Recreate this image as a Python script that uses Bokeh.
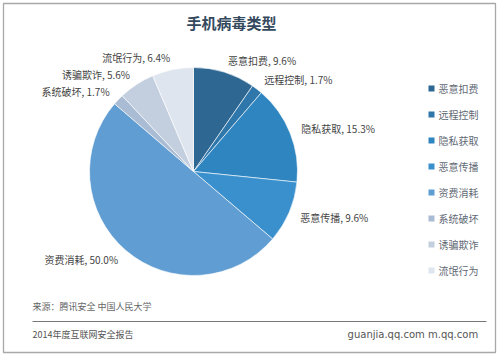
import math
from bokeh.plotting import figure
from bokeh.models import Range1d, ColumnDataSource
from bokeh.core.properties import value
from bokeh.embed import file_html
from bokeh.resources import INLINE

# ---- data ----
categories = ["恶意扣费", "远程控制", "隐私获取", "恶意传播", "资费消耗", "系统破坏", "诱骗欺诈", "流氓行为"]
shares = [9.6, 1.7, 15.3, 9.6, 50.0, 1.7, 5.6, 6.4]
colors = ["#2f6793", "#2f77aa", "#2f85c0", "#3a90cc", "#5f9dd3", "#a9bcd4", "#c3cfdf", "#dfe5ee"]
title_text = "手机病毒类型"
source_text = "来源：腾讯安全  中国人民大学"
footer_left = "2014年度互联网安全报告"
footer_right = "guanjia.qq.com   m.qq.com"

W, H = 499, 357
FONT = "Noto Sans CJK SC"

def Y(ypix):
    # convert window pixel y (top-down) to data y (bottom-up)
    return H - ypix

p = figure(width=W, height=H, output_backend="svg", toolbar_location=None,
           x_range=Range1d(0, W), y_range=Range1d(0, H),
           x_axis_type=None, y_axis_type=None, min_border=0,
           outline_line_color=None)
p.grid.visible = False
p.background_fill_color = "white"
p.border_fill_color = "white"

# frame
p.rect(x=[(3 + 495) / 2], y=[Y((3 + 352) / 2)], width=[492], height=[349],
       fill_color=None, line_color="#a8a8a8", line_width=1.3)

# pie
cx, cy, r = 193, Y(171), 104
total = sum(shares)
starts, ends, mids = [], [], []
cum = 0.0
for s in shares:
    a0 = cum / total
    cum += s
    a1 = cum / total
    starts.append(math.pi / 2 - a1 * 2 * math.pi)
    ends.append(math.pi / 2 - a0 * 2 * math.pi)
    mids.append((a0 + a1) / 2 * 2 * math.pi)

src = ColumnDataSource(dict(start=starts, end=ends, color=colors))
p.wedge(x=cx, y=cy, radius=r, start_angle="start", end_angle="end",
        fill_color="color", line_color="white", line_width=0.6, source=src)

# slice labels
lx, ly, la, lt = [], [], [], []
for cat, s, m in zip(categories, shares, mids):
    rr = r + 12
    lx.append(cx + rr * math.sin(m))
    ly.append(cy + rr * math.cos(m))
    la.append("left" if math.sin(m) >= 0 else "right")
    lt.append(f"{cat}, {s:.1f}%")
p.text(x=lx, y=ly, text=lt, text_align=la, text_baseline="middle",
       text_font=value(FONT), text_font_size="10px", text_color="#444444")

# title
p.text(x=[231], y=[Y(22)], text=[title_text], text_align="center", text_baseline="middle",
       text_font=value(FONT), text_font_size="15px", text_font_style="bold",
       text_color="#34495e")

# legend
leg_y = [Y(88 + 26 * i) for i in range(len(categories))]
p.rect(x=[431] * len(categories), y=leg_y, width=6, height=6,
       fill_color=colors, line_color=None)
p.text(x=[438] * len(categories), y=leg_y, text=categories, text_align="left",
       text_baseline="middle", text_font=value(FONT), text_font_size="10px",
       text_color="#5f6975")

# footer
p.text(x=[32], y=[Y(306)], text=[source_text], text_align="left", text_baseline="middle",
       text_font=value(FONT), text_font_size="9px", text_color="#666666")
p.line(x=[32, 486], y=[Y(321), Y(321)], line_color="#777777", line_width=1)
p.text(x=[32], y=[Y(334)], text=[footer_left], text_align="left", text_baseline="middle",
       text_font=value(FONT), text_font_size="9px", text_color="#555555")
p.text(x=[484], y=[Y(334)], text=[footer_right], text_align="right", text_baseline="middle",
       text_font=value("DejaVu Sans"), text_font_size="10px", text_color="#555555")

open("out.html", "w").write(file_html(p, INLINE))
